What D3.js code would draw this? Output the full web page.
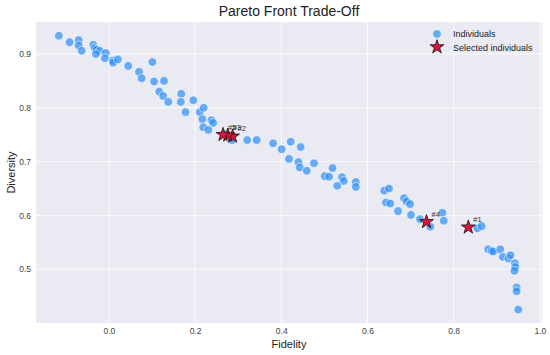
<!DOCTYPE html>
<html>
<head>
<meta charset="utf-8">
<script src="https://cdn.jsdelivr.net/npm/d3@7"></script>
<style>
  body { margin: 0; background: #fff; }
  text { font-family: "Liberation Sans", Arial, sans-serif; }
</style>
</head>
<body>
<div id="chart"></div>
<script>
var width = 550,
    height = 355,
    margin = {top: 22, right: 8, bottom: 32, left: 36};

// all individuals (fidelity, diversity)
var fidelity = [-0.116, -0.091, -0.070, -0.070, -0.063, -0.036, -0.033, -0.029, -0.021, -0.030,
    -0.007, -0.009, 0.009, 0.010, 0.021, 0.045, 0.070, 0.101, 0.076, 0.105,
    0.128, 0.117, 0.126, 0.138, 0.168, 0.167, 0.196, 0.178, 0.211, 0.220,
    0.217, 0.238, 0.242, 0.219, 0.231, 0.286, 0.321, 0.343, 0.381, 0.401,
    0.422, 0.445, 0.418, 0.440, 0.443, 0.459, 0.476, 0.501, 0.511, 0.519,
    0.541, 0.545, 0.530, 0.573, 0.573, 0.639, 0.650, 0.643, 0.653, 0.685,
    0.691, 0.699, 0.671, 0.701, 0.722, 0.746, 0.774, 0.777, 0.855, 0.865,
    0.880, 0.888, 0.892, 0.908, 0.914, 0.927, 0.932, 0.942, 0.943, 0.941,
    0.946, 0.946, 0.950, 0.267];
var diversity = [0.934, 0.922, 0.926, 0.916, 0.906, 0.917, 0.911, 0.908, 0.906, 0.900,
    0.902, 0.892, 0.888, 0.884, 0.890, 0.878, 0.867, 0.885, 0.855, 0.849,
    0.850, 0.830, 0.822, 0.811, 0.826, 0.811, 0.814, 0.792, 0.792, 0.800,
    0.779, 0.777, 0.772, 0.764, 0.759, 0.740, 0.740, 0.740, 0.734, 0.723,
    0.737, 0.727, 0.705, 0.699, 0.689, 0.683, 0.697, 0.673, 0.672, 0.688,
    0.671, 0.664, 0.655, 0.662, 0.653, 0.646, 0.650, 0.624, 0.622, 0.632,
    0.626, 0.621, 0.608, 0.601, 0.593, 0.579, 0.605, 0.590, 0.576, 0.580,
    0.537, 0.534, 0.533, 0.537, 0.523, 0.520, 0.526, 0.511, 0.504, 0.497,
    0.466, 0.459, 0.425, 0.751];

// selected individuals
var selLabels = ["#1", "#2", "#3", "#4", "#5"];
var selFidelity = [0.834, 0.287, 0.276, 0.737, 0.265];
var selDiversity = [0.578, 0.747, 0.749, 0.588, 0.750];

var xTicks = [0.0, 0.2, 0.4, 0.6, 0.8, 1.0];
var yTicks = [0.5, 0.6, 0.7, 0.8, 0.9];

var svg = d3.select("#chart").append("svg")
    .attr("width", width)
    .attr("height", height);

var x = d3.scaleLinear()
    .domain([-0.169, 1.005])
    .range([margin.left, width - margin.right]);

var y = d3.scaleLinear()
    .domain([0.40, 0.9595])
    .range([height - margin.bottom, margin.top]);

// plot background
svg.append("rect")
    .attr("x", margin.left)
    .attr("y", margin.top)
    .attr("width", width - margin.left - margin.right)
    .attr("height", height - margin.top - margin.bottom)
    .attr("fill", "#eaeaf2");

// grid
svg.append("g").selectAll("line").data(xTicks).join("line")
    .attr("x1", d => x(d)).attr("x2", d => x(d))
    .attr("y1", margin.top).attr("y2", height - margin.bottom)
    .attr("stroke", "#fff").attr("stroke-width", 0.8);

svg.append("g").selectAll("line").data(yTicks).join("line")
    .attr("y1", d => y(d)).attr("y2", d => y(d))
    .attr("x1", margin.left).attr("x2", width - margin.right)
    .attr("stroke", "#fff").attr("stroke-width", 0.8);

// axes (labels only, seaborn style)
var xAxis = svg.append("g")
    .attr("transform", "translate(0," + (height - margin.bottom) + ")")
    .call(d3.axisBottom(x).tickValues(xTicks).tickFormat(d3.format(".1f")).tickSize(0).tickPadding(5));

var yAxis = svg.append("g")
    .attr("transform", "translate(" + margin.left + ",0)")
    .call(d3.axisLeft(y).tickValues(yTicks).tickFormat(d3.format(".1f")).tickSize(0).tickPadding(5));

[xAxis, yAxis].forEach(function(a) {
    a.select(".domain").remove();
    a.selectAll("text")
        .attr("font-size", 8.5)
        .attr("fill", "#444")
        .attr("font-family", "Liberation Sans, Arial, sans-serif");
});

// individuals
var pts = fidelity.map((f, i) => ({f: f, d: diversity[i]}));

svg.append("g").selectAll("circle").data(pts).join("circle")
    .attr("cx", d => x(d.f))
    .attr("cy", d => y(d.d))
    .attr("r", 4.3)
    .attr("fill", "#2f8ff5")
    .attr("fill-opacity", 0.7)
    .attr("stroke", "#fff")
    .attr("stroke-width", 0.6);

// selected individuals
var star = d3.symbol().type(d3.symbolStar).size(60);
var sel = selLabels.map((l, i) => ({l: l, f: selFidelity[i], d: selDiversity[i]}));

svg.append("g").selectAll("path").data(sel).join("path")
    .attr("transform", d => "translate(" + x(d.f) + "," + y(d.d) + ")")
    .attr("d", star)
    .attr("fill", "#dc143c")
    .attr("stroke", "#111")
    .attr("stroke-width", 0.8);

svg.append("g").selectAll("text").data(sel).join("text")
    .attr("x", d => x(d.f) + 5)
    .attr("y", d => y(d.d) - 5)
    .attr("font-size", 7.5)
    .attr("fill", "#333")
    .text(d => d.l);

// title and axis labels
svg.append("text")
    .attr("x", (margin.left + width - margin.right) / 2)
    .attr("y", 16)
    .attr("text-anchor", "middle")
    .attr("font-size", 14)
    .attr("fill", "#222")
    .text("Pareto Front Trade-Off");

svg.append("text")
    .attr("x", (margin.left + width - margin.right) / 2)
    .attr("y", 348)
    .attr("text-anchor", "middle")
    .attr("font-size", 11)
    .attr("fill", "#222")
    .text("Fidelity");

svg.append("text")
    .attr("transform", "translate(15," + ((margin.top + height - margin.bottom) / 2) + ") rotate(-90)")
    .attr("text-anchor", "middle")
    .attr("font-size", 11)
    .attr("fill", "#222")
    .text("Diversity");

// legend
var legend = svg.append("g").attr("transform", "translate(437,34)");
legend.append("circle")
    .attr("r", 4.3)
    .attr("fill", "#2f8ff5")
    .attr("fill-opacity", 0.7)
    .attr("stroke", "#fff")
    .attr("stroke-width", 0.6);
legend.append("text")
    .attr("x", 16).attr("y", 3)
    .attr("font-size", 9).attr("fill", "#222")
    .text("Individuals");
legend.append("path")
    .attr("transform", "translate(0,13)")
    .attr("d", star)
    .attr("fill", "#dc143c")
    .attr("stroke", "#111")
    .attr("stroke-width", 0.8);
legend.append("text")
    .attr("x", 16).attr("y", 16.5)
    .attr("font-size", 9).attr("fill", "#222")
    .text("Selected individuals");
</script>
</body>
</html>
